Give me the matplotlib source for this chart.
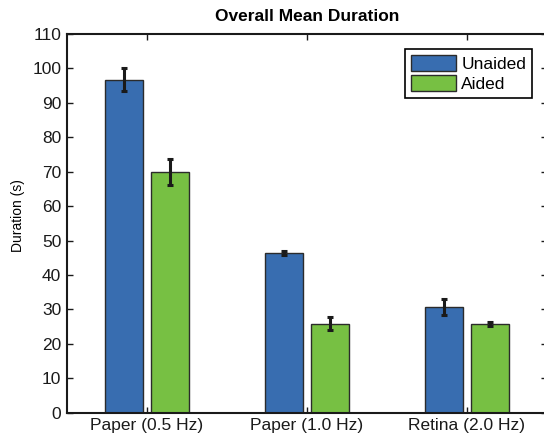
import matplotlib
matplotlib.use("Agg")
import matplotlib.pyplot as plt
import numpy as np

# data
conditions = ["Paper (0.5 Hz)", "Paper (1.0 Hz)", "Retina (2.0 Hz)"]
unaided_mean = [96.7, 46.5, 30.7]
unaided_err = [3.3, 0.6, 2.3]
aided_mean = [69.9, 25.9, 25.7]
aided_err = [3.9, 2.0, 0.5]

plt.rcParams["font.family"] = ["Liberation Sans", "DejaVu Sans"]

fig = plt.figure(figsize=(5.44, 4.40), dpi=100)
ax = fig.add_axes([0.123, 0.062, 0.8825, 0.861])

x = np.arange(1, len(conditions) + 1)
w = 0.235
off = 0.144
edge = "#2b2b2b"
ax.bar(x - off, unaided_mean, w, color="#386db0", edgecolor=edge, lw=1.0,
       label="Unaided", zorder=2)
ax.bar(x + off, aided_mean, w, color="#77c043", edgecolor=edge, lw=1.0,
       label="Aided", zorder=2)
ax.errorbar(x - off, unaided_mean, yerr=unaided_err, fmt="none",
            ecolor="#1a1a1a", elinewidth=2.2, capsize=2.4, capthick=2.2, zorder=3)
ax.errorbar(x + off, aided_mean, yerr=aided_err, fmt="none",
            ecolor="#1a1a1a", elinewidth=2.2, capsize=2.4, capthick=2.2, zorder=3)

ax.set_xlim(0.5, 3.5)
ax.set_ylim(0, 110)
ax.set_yticks(range(0, 111, 10))
ax.set_xticks(x)
ax.set_xticklabels(conditions)
ax.tick_params(direction="in", length=4, width=1.0, labelsize=12.5,
               top=True, right=True, pad=4, colors="#1a1a1a")
for s in ax.spines.values():
    s.set_linewidth(1.5)
    s.set_color("#1a1a1a")

ax.set_ylabel("Duration (s)", fontsize=10)
ax.yaxis.set_label_coords(-0.088, 0.52)
ax.set_title("Overall Mean Duration", fontsize=12.5, fontweight="bold", pad=9)

leg = ax.legend(loc="upper right", bbox_to_anchor=(0.969, 0.960),
                borderaxespad=0, fontsize=12.5, handlelength=2.6,
                handleheight=1.0, handletextpad=0.3, labelspacing=0.2,
                borderpad=0.35, fancybox=False, framealpha=1)
leg.get_frame().set_edgecolor("black")
leg.get_frame().set_linewidth(1.2)

fig.savefig("out.png", dpi=100)
